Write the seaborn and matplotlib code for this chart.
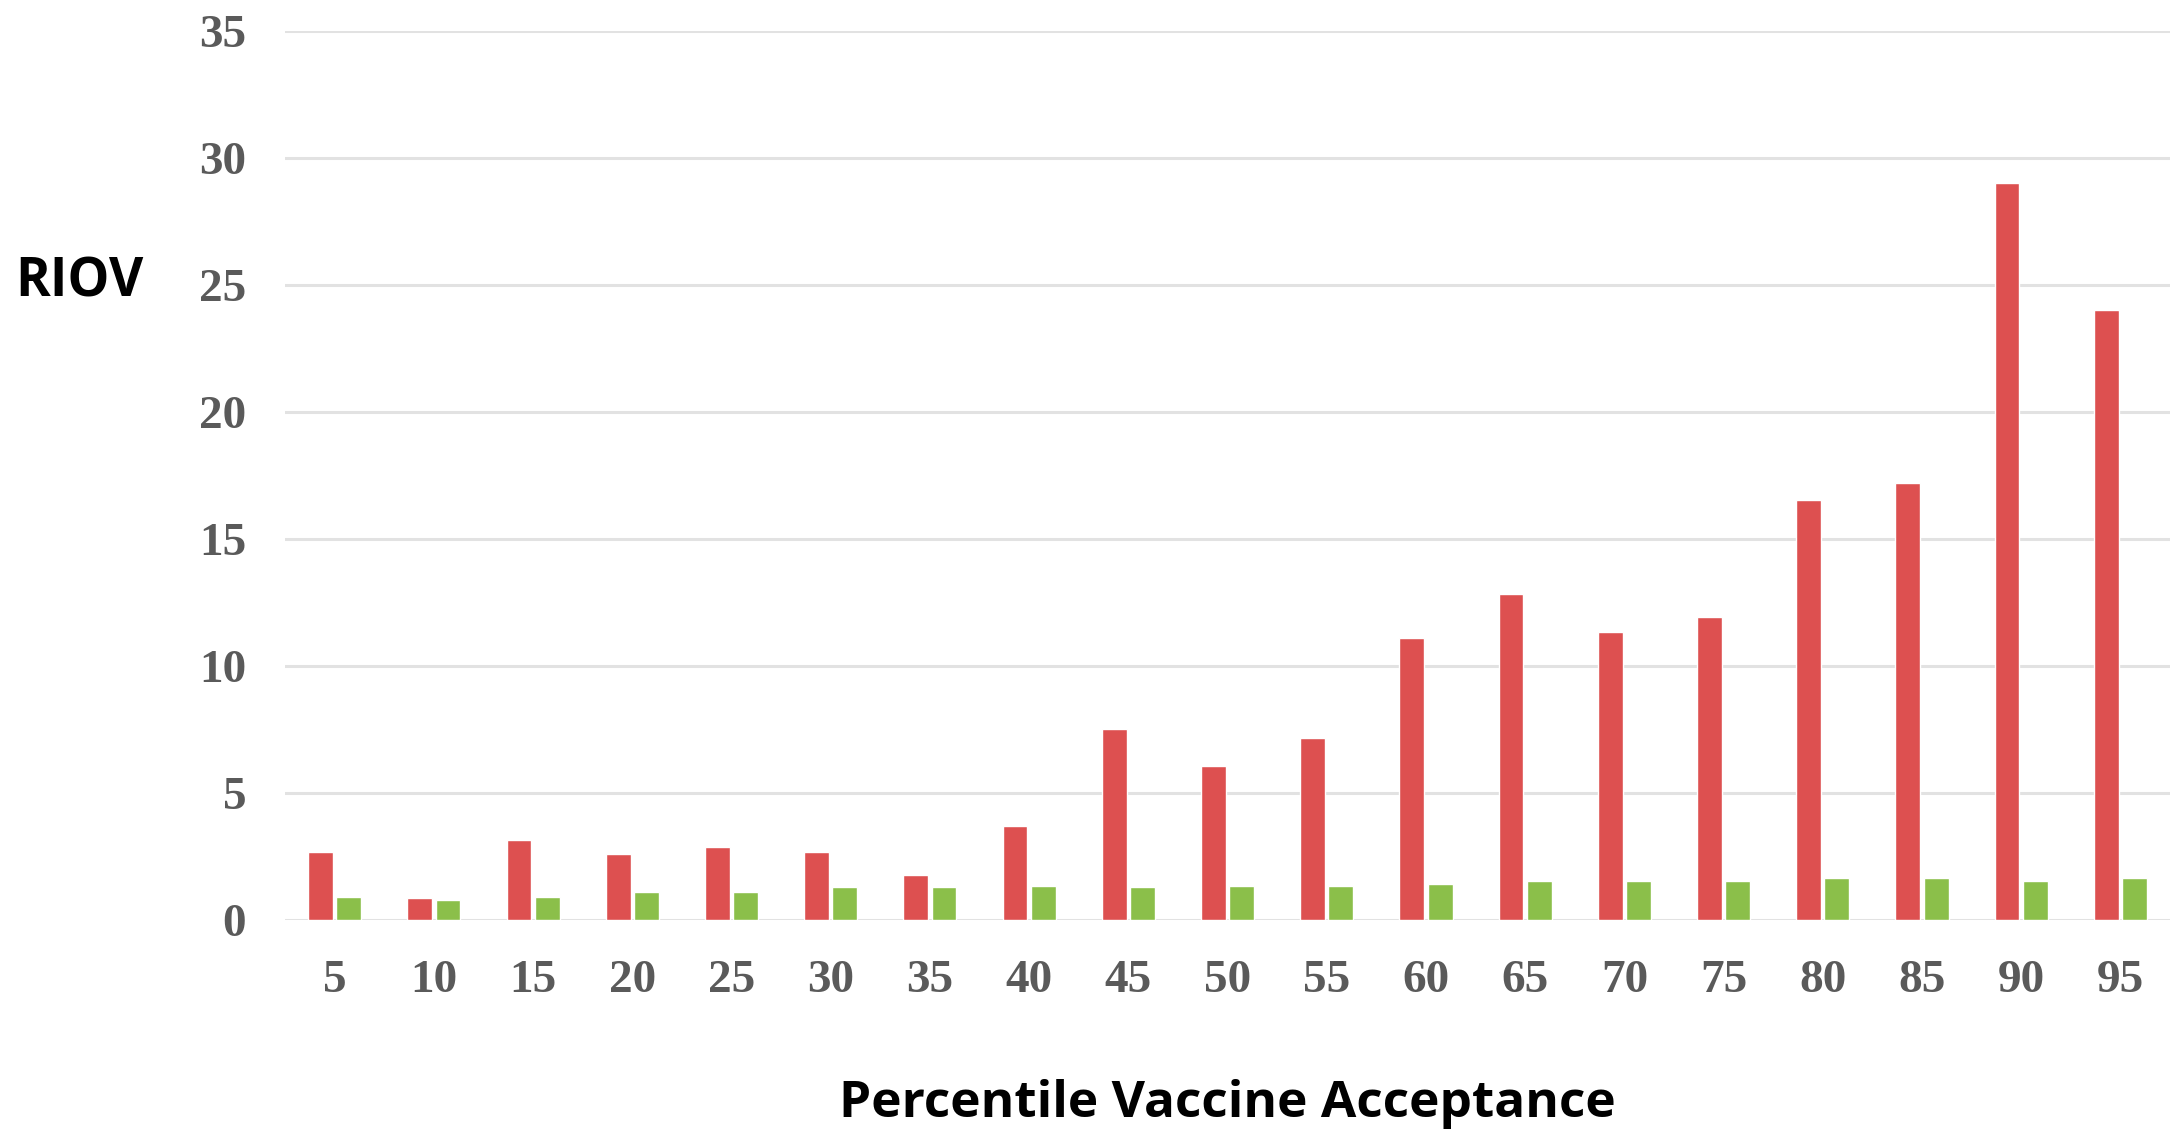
import pandas as pd
import matplotlib
matplotlib.use('Agg')
import matplotlib.pyplot as plt
import seaborn as sns

# Dados
percentis = [5, 10, 15, 20, 25, 30, 35, 40, 45, 50, 55, 60, 65, 70, 75, 80, 85, 90, 95]
riov_alto = [2.67, 0.85, 3.13, 2.57, 2.87, 2.67, 1.75, 3.68, 7.5, 6.05, 7.15,
             11.1, 12.8, 11.3, 11.9, 16.5, 17.2, 29.0, 24.0]
riov_baixo = [0.87, 0.75, 0.87, 1.07, 1.09, 1.29, 1.29, 1.33, 1.29, 1.30, 1.30,
              1.41, 1.52, 1.52, 1.52, 1.62, 1.62, 1.52, 1.64]
grupos = ['Serie 1', 'Serie 2']
cores = ['#DD5050', '#8BBF4A']
ticks_y = [0, 5, 10, 15, 20, 25, 30, 35]

# Formato longo para o seaborn
df = pd.DataFrame({
    'Percentil': percentis * 2,
    'RIOV': riov_alto + riov_baixo,
    'Grupo': [grupos[0]] * len(percentis) + [grupos[1]] * len(percentis),
})

sns.set_style('white')

fig = plt.figure(figsize=(21.78, 11.39), dpi=100)
ax = fig.add_axes([0.1309, 0.1927, 0.8654, 0.7805])

sns.barplot(data=df, x='Percentil', y='RIOV', hue='Grupo', order=percentis,
            hue_order=grupos, palette=cores, width=0.57, gap=0.12,
            legend=False, ax=ax, saturation=1)

# Eixos e grade
ax.set_ylim(0, 35)
ax.set_yticks(ticks_y)
ax.set_xlim(-0.5, len(percentis) - 0.5)
ax.yaxis.grid(True, color='#E2E2E2', linewidth=2.2)
ax.set_axisbelow(True)
for s in ax.spines.values():
    s.set_visible(False)

ax.tick_params(axis='both', length=0)
ax.tick_params(axis='y', pad=28)
ax.tick_params(axis='x', pad=29)
for lab in ax.get_xticklabels() + ax.get_yticklabels():
    lab.set_fontfamily('Liberation Serif')
    lab.set_fontweight('bold')
    lab.set_fontsize(34)
    lab.set_color('#5A5A5A')

# Rotulos
ax.set_ylabel('RIOV', rotation=0, fontsize=38, fontweight='bold',
              family='Open Sans', color='black', ha='center', va='center')
ax.yaxis.set_label_coords(-0.109, 0.717)
ax.set_xlabel('Percentile Vaccine Acceptance', fontsize=37, fontweight='bold',
              family='Open Sans', color='black', va='center')
ax.xaxis.set_label_coords(0.5, -0.2075)

fig.savefig('out.png', dpi=100)
